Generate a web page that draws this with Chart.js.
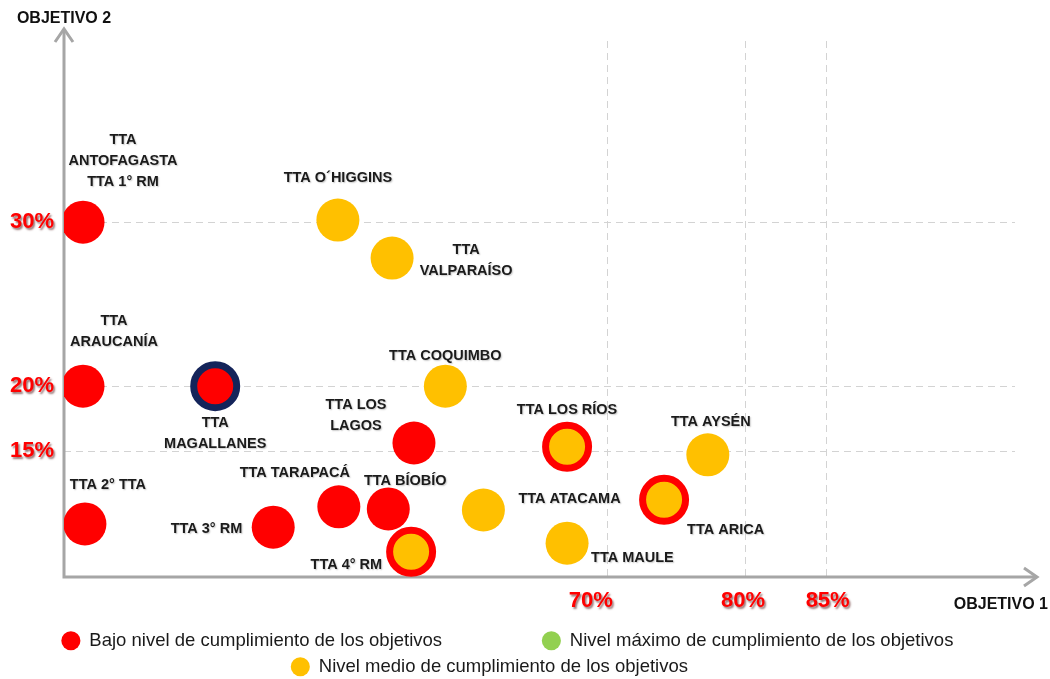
<!DOCTYPE html>
<html><head><meta charset="utf-8">
<script src="https://cdn.jsdelivr.net/npm/chart.js@4.4.1/dist/chart.umd.min.js"></script>
<style>html,body{margin:0;padding:0;background:#fff}#wrap{width:1050px;height:679px;position:relative}</style>
</head><body><div id="wrap"><canvas id="c"></canvas></div>
<script>
// ---- data (schematic positions on a 0-100 plane) ----
const bajoNames  = ['TTA\nANTOFAGASTA\nTTA 1° RM','TTA\nARAUCANÍA','TTA 2° TTA','TTA 3° RM','TTA TARAPACÁ','TTA BÍOBÍO','TTA LOS\nLAGOS'];
const bajoX      = [2.0, 2.0, 2.2, 22.0, 28.9, 34.1, 36.8];
const bajoY      = [66.2, 35.6, 9.9, 9.3, 13.1, 12.7, 25.0];

const medioNames = ['TTA O´HIGGINS','TTA\nVALPARAÍSO','TTA COQUIMBO','TTA AYSÉN','TTA ATACAMA','TTA MAULE'];
const medioX     = [28.8, 34.5, 40.1, 67.7, 44.1, 52.9];
const medioY     = [66.6, 59.5, 35.6, 22.8, 12.5, 6.3];

const alertaNames = ['TTA LOS RÍOS','TTA 4° RM','TTA ARICA'];
const alertaX     = [52.9, 36.5, 63.1];
const alertaY     = [24.3, 4.7, 14.4];

const magNames = ['TTA\nMAGALLANES'];
const magX     = [15.9];
const magY     = [35.6];

const maxX = [];
const maxY = [];

const xGridVals   = [57.2, 71.7, 80.2];
const xTickVals   = [55.4, 71.4, 80.3];
const xTickLabels = ['70%', '80%', '85%'];
const yTickVals   = [66.2, 35.6, 23.5];
const yTickLabels = ['30%', '20%', '15%'];

const legendBajo  = 'Bajo nivel de cumplimiento de los objetivos';
const legendMax   = 'Nivel máximo de cumplimiento de los objetivos';
const legendMedio = 'Nivel medio de cumplimiento de los objetivos';
const xTitle = 'OBJETIVO 1';
const yTitle = 'OBJETIVO 2';

// ---- label placement (offset from point, px) ----
const bajoLabelPos   = [[40,-82,'center'],[31,-65,'center'],[23,-39,'center'],[-31,2,'right'],[-44,-34,'center'],[17,-28,'center'],[-58,-38,'center']];
const medioLabelPos  = [[0,-42,'center'],[74,-8,'center'],[0,-30,'center'],[3,-33,'center'],[35,-11,'left'],[24,15,'left']];
const alertaLabelPos = [[0,-37,'center'],[-29,13,'right'],[23,30,'left']];
const magLabelPos    = [[0,37,'center']];

const RED = '#ff0000', YELLOW = '#ffc000', GREEN = '#92d050', NAVY = '#14245a';
const FONT = "'Liberation Sans', Arial, sans-serif";

const pts = (xs, ys) => xs.map((x, i) => ({x, y: ys[i]}));

const datasets = [
  {label: legendBajo, data: pts(bajoX, bajoY), names: bajoNames, labelPos: bajoLabelPos, legendPad: 18,
   backgroundColor: RED, borderColor: RED, borderWidth: 0, pointRadius: 21.5, pointStyle: 'circle', inLegend: true},
  {label: legendMax, data: pts(maxX, maxY), names: [], labelPos: [], legendPad: 0,
   backgroundColor: GREEN, borderColor: GREEN, borderWidth: 0, pointRadius: 21.5, pointStyle: 'circle', inLegend: true},
  {label: legendMedio, data: pts(medioX, medioY), names: medioNames, labelPos: medioLabelPos, legendPad: 7,
   backgroundColor: YELLOW, borderColor: YELLOW, borderWidth: 0, pointRadius: 21.5, pointStyle: 'circle', inLegend: true},
  {label: 'alerta', data: pts(alertaX, alertaY), names: alertaNames, labelPos: alertaLabelPos,
   backgroundColor: YELLOW, borderColor: RED, borderWidth: 7, pointRadius: 21.5, pointStyle: 'circle', inLegend: false},
  {label: 'magallanes', data: pts(magX, magY), names: magNames, labelPos: magLabelPos,
   backgroundColor: RED, borderColor: NAVY, borderWidth: 7, pointRadius: 21.5, pointStyle: 'circle', inLegend: false}
];

const decorPlugin = {
  id: 'decor',
  beforeDraw(chart) {
    ['y', 'xLab'].forEach(id => {
      const s = chart.scales[id];
      if (s && !s._shadowed) {
        const orig = s.drawLabels.bind(s);
        s.drawLabels = function (a) {
          const c = this.ctx; c.save();
          c.shadowColor = 'rgba(70,0,0,0.55)'; c.shadowBlur = 2; c.shadowOffsetX = 1.5; c.shadowOffsetY = 1.5;
          orig(a); c.restore();
        };
        s._shadowed = true;
      }
    });
  },
  beforeDatasetsDraw(chart) {
    const {ctx, chartArea: a} = chart;
    ctx.save();
    ctx.strokeStyle = '#a6a6a6'; ctx.lineWidth = 3; ctx.lineCap = 'butt'; ctx.lineJoin = 'miter';
    const tipY = a.top - 12, tipX = a.right + 22;
    ctx.beginPath();
    ctx.moveTo(a.left, tipY + 1); ctx.lineTo(a.left, a.bottom); ctx.lineTo(tipX - 1, a.bottom);
    ctx.stroke();
    ctx.beginPath();
    ctx.moveTo(a.left - 9, tipY + 13); ctx.lineTo(a.left, tipY); ctx.lineTo(a.left + 9, tipY + 13);
    ctx.moveTo(tipX - 13, a.bottom - 9); ctx.lineTo(tipX, a.bottom); ctx.lineTo(tipX - 13, a.bottom + 9);
    ctx.stroke();
    ctx.fillStyle = '#111';
    ctx.font = `bold 16px ${FONT}`;
    ctx.textBaseline = 'middle';
    ctx.textAlign = 'center';
    ctx.fillText(yTitle, a.left, a.top - 22);
    ctx.textAlign = 'right';
    ctx.fillText(xTitle, a.right + 33, a.bottom + 28);
    ctx.restore();
  },
  afterDatasetsDraw(chart) {
    const {ctx} = chart;
    ctx.save();
    ctx.font = `bold 14.5px ${FONT}`;
    ctx.fillStyle = '#1b1b1b';
    ctx.textBaseline = 'middle';
    ctx.shadowColor = 'rgba(0,0,0,0.22)'; ctx.shadowBlur = 1.5; ctx.shadowOffsetX = 1; ctx.shadowOffsetY = 1;
    chart.data.datasets.forEach((ds, di) => {
      const meta = chart.getDatasetMeta(di);
      meta.data.forEach((el, j) => {
        const name = ds.names[j]; const p = ds.labelPos[j];
        if (!name || !p) return;
        ctx.textAlign = p[2];
        name.split('\n').forEach((line, k) => ctx.fillText(line, el.x + p[0], el.y + p[1] + k * 21));
      });
    });
    ctx.restore();
  }
};

const gridCommon = {color: '#d3d3d3', lineWidth: 1, drawTicks: false};

new Chart(document.getElementById('c'), {
  type: 'scatter',
  data: {datasets},
  options: {
    responsive: true, maintainAspectRatio: false, animation: false, events: [],
    layout: {padding: {top: 41, right: 35, left: 0, bottom: 0}},
    scales: {
      x: {type: 'linear', position: 'bottom', min: 0, max: 100,
          afterBuildTicks: s => { s.ticks = xGridVals.map(v => ({value: v})); },
          ticks: {display: false}, grid: gridCommon, border: {display: false, dash: [7, 5]},
          afterFit: s => { s.height = 0; }},
      xLab: {type: 'linear', position: 'bottom', min: 0, max: 100,
          afterBuildTicks: s => { s.ticks = xTickVals.map(v => ({value: v})); },
          ticks: {autoSkip: false, maxRotation: 0, padding: 11, color: RED,
                  font: {family: FONT, size: 22, weight: 'bold'},
                  callback: (v, i) => xTickLabels[i]},
          grid: {display: false, drawTicks: false}, border: {display: false},
          afterFit: s => { s.height = 47; }},
      y: {type: 'linear', position: 'left', min: 0, max: 100,
          afterBuildTicks: s => { s.ticks = yTickVals.map(v => ({value: v})); },
          ticks: {autoSkip: false, padding: 10, color: RED,
                  font: {family: FONT, size: 22, weight: 'bold'},
                  callback: (v, i) => yTickLabels[i]},
          grid: gridCommon, border: {display: false, dash: [7, 5]},
          afterFit: s => { s.width = 64; }}
    },
    plugins: {
      tooltip: {enabled: false},
      legend: {
        position: 'bottom', align: 'center', maxHeight: 55,
        labels: {
          usePointStyle: true, boxHeight: 13.5, boxWidth: 18.5, padding: 7.5, color: '#1a1a1a',
          font: {family: FONT, size: 18.5},
          generateLabels: chart => chart.data.datasets.map((ds, i) => ds.inLegend ? {
            text: ds.label + '\u00a0'.repeat(ds.legendPad || 0),
            fillStyle: ds.backgroundColor, strokeStyle: ds.backgroundColor, lineWidth: 0,
            pointStyle: 'circle', hidden: false, datasetIndex: i, fontColor: '#1a1a1a'
          } : null).filter(Boolean)
        }
      }
    }
  },
  plugins: [decorPlugin]
});
</script>
</body></html>
